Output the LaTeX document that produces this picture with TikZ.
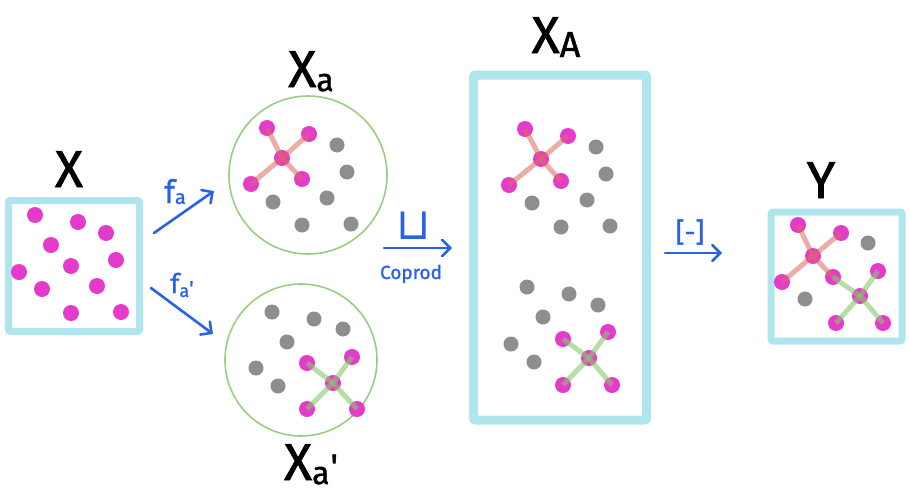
\documentclass[tikz,border=0pt]{standalone}
\usepackage{fontspec}
\setmainfont{Fira Sans}
\newfontfamily\labfont{Fira Sans}[FakeBold=1.3]
\newfontfamily\symfont{DejaVu Sans}
\usetikzlibrary{arrows.meta}
\definecolor{boxcyan}{HTML}{AFE6EE}
\definecolor{dotmag}{HTML}{E53BCB}
\definecolor{dotgray}{HTML}{8E8E8E}
\definecolor{ringgreen}{HTML}{9ACD84}
\definecolor{linkred}{HTML}{DC6A60}
\definecolor{linkgreen}{HTML}{86C96A}
\definecolor{arrblue}{HTML}{2962E6}
\begin{document}
\begin{tikzpicture}[x=1pt,y=-1pt,
  mdot/.style={circle,fill=dotmag,inner sep=0pt,minimum size=16pt},
  gdot/.style={circle,fill=dotgray,inner sep=0pt,minimum size=15pt},
  setbox/.style={draw=boxcyan,line width=7pt,rounded corners=2pt,inner sep=0pt},
  ring/.style={draw=ringgreen,line width=1.6pt,circle,inner sep=0pt},
  redlink/.style={draw=linkred,line width=5pt,opacity=0.55},
  greenlink/.style={draw=linkgreen,line width=5pt,opacity=0.6},
  biglabel/.style={font=\labfont\fontsize{52}{52}\selectfont,inner sep=0pt,anchor=base},
  bluelabel/.style={text=arrblue,inner sep=0pt,font=\labfont},
  maparrow/.style={draw=arrblue,line width=2.6pt,line cap=round,-{Straight Barb[length=8pt,width=16pt,line cap=round]}}
]
\useasboundingbox (0,0) rectangle (910,498);

% ---------- X ----------
\node[setbox,minimum width=131pt,minimum height=131pt] (boxX) at (74,266) {};
\foreach \n/\x/\y in {1/35/215,2/78/222,3/106/233,4/51/245,5/116/260,6/71/266,7/19/272,8/42/289,9/97/286,10/71/313,11/121/312}
  \node[mdot] (x\n) at (\x,\y) {};
\node[biglabel] (labX) at (69,187) {X};

% ---------- X_a ----------
\node[ring,minimum size=158pt] (ringA) at (308,175) {};
\foreach \n/\x/\y in {1/267/128,2/309/134,3/282/158,4/251/184,5/302/179}
  \node[mdot] (a\n) at (\x,\y) {};
\foreach \n/\x/\y in {1/337/145,2/347/172,3/273/202,4/327/198,5/302/225,6/351/224}
  \node[gdot] (ag\n) at (\x,\y) {};
\foreach \n in {1,2,4,5} \draw[redlink] (a3.center) -- (a\n.center);
\node[biglabel] (labXa) at (311,87) {X\raisebox{-4pt}{\fontsize{32}{32}\selectfont a}};

% ---------- X_a' ----------
\node[ring,minimum size=152pt] (ringB) at (301,360) {};
\foreach \n/\x/\y in {1/272/312,2/314/319,3/343/329,4/287/342,5/256/368,6/278/386}
  \node[gdot] (bg\n) at (\x,\y) {};
\foreach \n/\x/\y in {1/307/363,2/352/357,3/333/383,4/307/409,5/357/409}
  \node[mdot] (b\n) at (\x,\y) {};
\foreach \n in {1,2,4,5} \draw[greenlink] (b3.center) -- (b\n.center);
\node[biglabel] (labXb) at (311,480) {X\raisebox{-4pt}{\fontsize{32}{32}\selectfont a\raisebox{6pt}{\fontsize{34}{34}\selectfont\kern1pt'}}};

% ---------- X_A ----------
\node[setbox,line width=9pt,minimum width=173pt,minimum height=345pt] (boxXA) at (560,247.5) {};
\foreach \n/\x/\y in {1/525/129,2/568/136,3/541/159,4/509/185,5/561/181}
  \node[mdot] (u\n) at (\x,\y) {};
\foreach \n/\x/\y in {1/596/147,2/606/174,3/532/203,4/587/200,5/561/227,6/610/226}
  \node[gdot] (ug\n) at (\x,\y) {};
\foreach \n in {1,2,4,5} \draw[redlink] (u3.center) -- (u\n.center);
\foreach \n/\x/\y in {1/527/287,2/569/294,3/598/305,4/543/317,5/511/344,6/534/362}
  \node[gdot] (vg\n) at (\x,\y) {};
\foreach \n/\x/\y in {1/563/339,2/608/332,3/589/358,4/563/385,5/612/385}
  \node[mdot] (v\n) at (\x,\y) {};
\foreach \n in {1,2,4,5} \draw[greenlink] (v3.center) -- (v\n.center);
\node[biglabel] (labXA) at (556,53) {X\raisebox{-4pt}{\fontsize{36}{36}\selectfont A}};

% ---------- Y ----------
\node[setbox,minimum width=131pt,minimum height=129pt] (boxY) at (836.5,276.5) {};
\foreach \n/\x/\y in {1/798/225,2/841/233,3/813/256,4/782/282,5/833/277,6/878/271,7/860/296,8/836/323,9/883/323}
  \node[mdot] (y\n) at (\x,\y) {};
\node[gdot] (yg1) at (868,243) {};
\node[gdot] (yg2) at (805,299) {};
\foreach \n in {1,2,4,5} \draw[redlink] (y3.center) -- (y\n.center);
\foreach \n in {5,6,8,9} \draw[greenlink] (y7.center) -- (y\n.center);
\node[biglabel] (labY) at (821,198) {Y};

% ---------- arrows ----------
\coordinate (fa0) at (154,233);
\coordinate (fa1) at (214,191);
\draw[maparrow] (fa0) -- (fa1);
\node[bluelabel,anchor=base] (lfa) at (175,203) {\fontsize{32}{32}\selectfont f\raisebox{-1pt}{\fontsize{20}{20}\selectfont a}};

\coordinate (fb0) at (151,288);
\coordinate (fb1) at (213,334);
\draw[maparrow] (fb0) -- (fb1);
\node[bluelabel,anchor=base] (lfb) at (182,293) {\fontsize{27}{27}\selectfont f\raisebox{-4pt}{\fontsize{18}{18}\selectfont a\raisebox{2pt}{\fontsize{20}{20}\selectfont '}}};

\coordinate (cp0) at (384,248);
\coordinate (cp1) at (452,248);
\draw[maparrow] (cp0) -- (cp1);
\node[bluelabel] (lcup) at (414,226) {\symfont\fontsize{44}{44}\selectfont ⊔};
\node[bluelabel,anchor=base] (lcop) at (411,279) {\fontsize{19}{19}\selectfont Coprod};

\coordinate (q0) at (665,253);
\coordinate (q1) at (722,253);
\draw[maparrow] (q0) -- (q1);
\node[bluelabel] (lq) at (690,232) {\fontsize{27}{27}\selectfont [-]};
\end{tikzpicture}
\end{document}
